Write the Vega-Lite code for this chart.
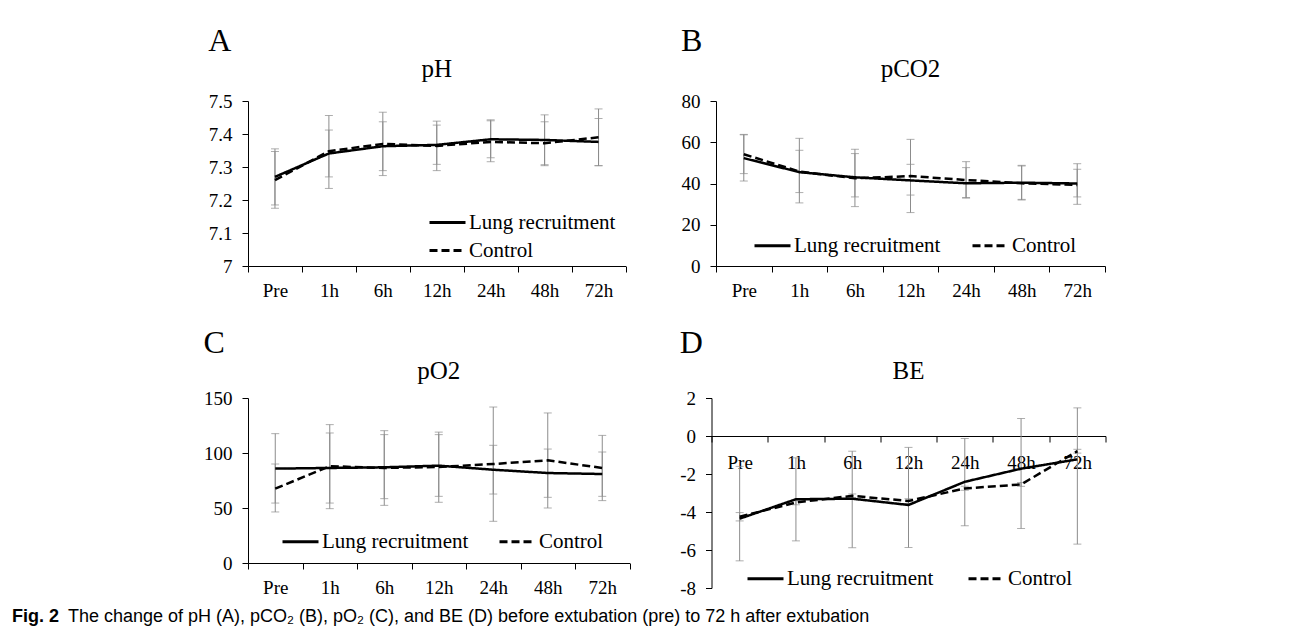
{
  "$schema": "https://vega.github.io/schema/vega-lite/v6.json",
  "padding": {"left": 12, "top": 25, "right": 5, "bottom": 3},
  "background": "white",
  "datasets": {
    "ph": [
      {"time": "Pre", "group": "Lung recruitment", "mean": 7.27, "lo": 7.185, "hi": 7.355},
      {"time": "1h", "group": "Lung recruitment", "mean": 7.341, "lo": 7.27, "hi": 7.412},
      {"time": "6h", "group": "Lung recruitment", "mean": 7.363, "lo": 7.289, "hi": 7.437},
      {"time": "12h", "group": "Lung recruitment", "mean": 7.367, "lo": 7.308, "hi": 7.427},
      {"time": "24h", "group": "Lung recruitment", "mean": 7.384, "lo": 7.328, "hi": 7.443},
      {"time": "48h", "group": "Lung recruitment", "mean": 7.382, "lo": 7.304, "hi": 7.458},
      {"time": "72h", "group": "Lung recruitment", "mean": 7.376, "lo": 7.304, "hi": 7.447},
      {"time": "Pre", "group": "Control", "mean": 7.26, "lo": 7.175, "hi": 7.347},
      {"time": "1h", "group": "Control", "mean": 7.348, "lo": 7.235, "hi": 7.456},
      {"time": "6h", "group": "Control", "mean": 7.37, "lo": 7.274, "hi": 7.466},
      {"time": "12h", "group": "Control", "mean": 7.364, "lo": 7.289, "hi": 7.439},
      {"time": "24h", "group": "Control", "mean": 7.376, "lo": 7.316, "hi": 7.44},
      {"time": "48h", "group": "Control", "mean": 7.372, "lo": 7.307, "hi": 7.437},
      {"time": "72h", "group": "Control", "mean": 7.39, "lo": 7.304, "hi": 7.476}
    ],
    "pco2": [
      {"time": "Pre", "group": "Lung recruitment", "mean": 52.3, "lo": 41.2, "hi": 63.6},
      {"time": "1h", "group": "Lung recruitment", "mean": 45.5, "lo": 35.6, "hi": 56.1},
      {"time": "6h", "group": "Lung recruitment", "mean": 43.0, "lo": 28.8, "hi": 56.6},
      {"time": "12h", "group": "Lung recruitment", "mean": 41.5, "lo": 34.4, "hi": 49.3},
      {"time": "24h", "group": "Lung recruitment", "mean": 40.1, "lo": 32.9, "hi": 47.7},
      {"time": "48h", "group": "Lung recruitment", "mean": 40.4, "lo": 32.3, "hi": 48.5},
      {"time": "72h", "group": "Lung recruitment", "mean": 40.0, "lo": 33.5, "hi": 46.9},
      {"time": "Pre", "group": "Control", "mean": 54.2, "lo": 44.8, "hi": 63.8},
      {"time": "1h", "group": "Control", "mean": 45.8, "lo": 30.6, "hi": 61.9},
      {"time": "6h", "group": "Control", "mean": 42.5, "lo": 33.5, "hi": 54.5},
      {"time": "12h", "group": "Control", "mean": 43.6, "lo": 25.9, "hi": 61.4},
      {"time": "24h", "group": "Control", "mean": 41.7, "lo": 33.2, "hi": 50.6},
      {"time": "48h", "group": "Control", "mean": 40.1, "lo": 32.0, "hi": 48.8},
      {"time": "72h", "group": "Control", "mean": 39.3, "lo": 29.9, "hi": 49.6}
    ],
    "po2": [
      {"time": "Pre", "group": "Lung recruitment", "mean": 85.8, "lo": 54.5, "hi": 117.6},
      {"time": "1h", "group": "Lung recruitment", "mean": 86.4, "lo": 54.5, "hi": 118.2},
      {"time": "6h", "group": "Lung recruitment", "mean": 87.0, "lo": 58.5, "hi": 116.7},
      {"time": "12h", "group": "Lung recruitment", "mean": 88.5, "lo": 60.6, "hi": 116.7},
      {"time": "24h", "group": "Lung recruitment", "mean": 84.8, "lo": 62.7, "hi": 107.0},
      {"time": "48h", "group": "Lung recruitment", "mean": 81.8, "lo": 59.7, "hi": 103.6},
      {"time": "72h", "group": "Lung recruitment", "mean": 80.9, "lo": 60.6, "hi": 100.9},
      {"time": "Pre", "group": "Control", "mean": 67.6, "lo": 46.4, "hi": 90.0},
      {"time": "1h", "group": "Control", "mean": 88.0, "lo": 49.4, "hi": 125.8},
      {"time": "6h", "group": "Control", "mean": 86.4, "lo": 52.4, "hi": 120.3},
      {"time": "12h", "group": "Control", "mean": 87.3, "lo": 55.2, "hi": 119.0},
      {"time": "24h", "group": "Control", "mean": 90.0, "lo": 37.9, "hi": 141.8},
      {"time": "48h", "group": "Control", "mean": 93.3, "lo": 50.0, "hi": 136.4},
      {"time": "72h", "group": "Control", "mean": 86.4, "lo": 56.7, "hi": 116.0}
    ],
    "be": [
      {"time": "Pre", "group": "Lung recruitment", "mean": -4.35, "lo": -6.57, "hi": -1.6},
      {"time": "1h", "group": "Lung recruitment", "mean": -3.33, "lo": -5.52, "hi": -1.15},
      {"time": "6h", "group": "Lung recruitment", "mean": -3.3, "lo": -5.88, "hi": -0.8},
      {"time": "12h", "group": "Lung recruitment", "mean": -3.63, "lo": -5.87, "hi": -0.6},
      {"time": "24h", "group": "Lung recruitment", "mean": -2.41, "lo": -4.73, "hi": -0.13},
      {"time": "48h", "group": "Lung recruitment", "mean": -1.72, "lo": -4.87, "hi": 0.92},
      {"time": "72h", "group": "Lung recruitment", "mean": -1.23, "lo": -5.69, "hi": 1.48},
      {"time": "Pre", "group": "Control", "mean": -4.25, "lo": -4.47, "hi": -4.03},
      {"time": "1h", "group": "Control", "mean": -3.5, "lo": -3.62, "hi": -3.38},
      {"time": "6h", "group": "Control", "mean": -3.15, "lo": -3.25, "hi": -3.05},
      {"time": "12h", "group": "Control", "mean": -3.42, "lo": -3.55, "hi": -3.3},
      {"time": "24h", "group": "Control", "mean": -2.76, "lo": -2.85, "hi": -2.65},
      {"time": "48h", "group": "Control", "mean": -2.55, "lo": -2.65, "hi": -2.45},
      {"time": "72h", "group": "Control", "mean": -0.8, "lo": -0.9, "hi": -0.7}
    ]
  },
  "title": {
    "text": "Fig. 2",
    "orient": "bottom",
    "anchor": "start",
    "frame": "bounds",
    "dx": -56,
    "offset": -18,
    "font": "Liberation Sans",
    "fontSize": 18,
    "fontWeight": "bold",
    "color": "black"
  },
  "vconcat": [
    {
      "title": {
        "text": "The change of pH (A), pCO₂ (B), pO₂ (C), and BE (D) before extubation (pre) to 72 h after extubation",
        "orient": "bottom",
        "anchor": "start",
        "frame": "bounds",
        "dx": -135.5,
        "offset": 10,
        "font": "Liberation Sans",
        "fontSize": 18,
        "fontWeight": "normal",
        "color": "black"
      },
      "columns": 1,
      "align": "none",
      "spacing": 27,
      "resolve": {"scale": {"x": "independent", "y": "independent", "strokeDash": "independent"}, "legend": {"strokeDash": "independent"}},
      "concat": [
        {
          "spacing": 54,
          "resolve": {"scale": {"x": "independent", "y": "independent", "strokeDash": "independent"}, "legend": {"strokeDash": "independent"}},
          "hconcat": [
            {
              "title": {"text": "A", "anchor": "start", "frame": "bounds", "fontSize": 32, "offset": -1},
              "vconcat": [
                {
                  "width": 377.5, "height": 165,
                  "title": {"text": "pH", "fontSize": 25, "anchor": "middle", "offset": 10},
                  "data": {"name": "ph"},
                  "encoding": {"x": {"field": "time", "type": "ordinal", "sort": ["Pre", "1h", "6h", "12h", "24h", "48h", "72h"], "scale": {"paddingInner": 0, "paddingOuter": 0}, "axis": {"title": null}}},
                  "layer": [
                    {"mark": {"type": "rule", "color": "#8c8c8c", "strokeWidth": 1}, "encoding": {"y": {"field": "lo", "type": "quantitative", "scale": {"domain": [7, 7.5], "nice": false, "zero": false}, "axis": {"title": null, "values": [7, 7.1, 7.2, 7.3, 7.4, 7.5], "tickCount": 12, "labelOverlap": false, "labelExpr": "'' + datum.value"}}, "y2": {"field": "hi"}}},
                    {"mark": {"type": "tick", "color": "#8c8c8c", "thickness": 1}, "encoding": {"y": {"field": "lo", "type": "quantitative"}, "size": {"value": 8}}},
                    {"mark": {"type": "tick", "color": "#8c8c8c", "thickness": 1}, "encoding": {"y": {"field": "hi", "type": "quantitative"}, "size": {"value": 8}}},
                    {"mark": {"type": "line", "color": "black", "strokeWidth": 2.5}, "encoding": {"y": {"field": "mean", "type": "quantitative"}, "strokeDash": {"field": "group", "type": "nominal", "scale": {"domain": ["Lung recruitment", "Control"], "range": [[1, 0], [8, 4]]}, "legend": {"orient": "none", "legendX": 188, "legendY": 110, "direction": "vertical", "rowPadding": 6}}}}
                  ]
                }
              ]
            },
            {
              "title": {"text": "B", "anchor": "start", "frame": "bounds", "fontSize": 32, "offset": -1},
              "vconcat": [
                {
                  "width": 389, "height": 165,
                  "title": {"text": "pCO2", "fontSize": 25, "anchor": "middle", "offset": 10},
                  "data": {"name": "pco2"},
                  "encoding": {"x": {"field": "time", "type": "ordinal", "sort": ["Pre", "1h", "6h", "12h", "24h", "48h", "72h"], "scale": {"paddingInner": 0, "paddingOuter": 0}, "axis": {"title": null}}},
                  "layer": [
                    {"mark": {"type": "rule", "color": "#8c8c8c", "strokeWidth": 1}, "encoding": {"y": {"field": "lo", "type": "quantitative", "scale": {"domain": [0, 80], "nice": false}, "axis": {"title": null, "values": [0, 20, 40, 60, 80], "tickCount": 12, "labelOverlap": false, "labelExpr": "'' + datum.value"}}, "y2": {"field": "hi"}}},
                    {"mark": {"type": "tick", "color": "#8c8c8c", "thickness": 1}, "encoding": {"y": {"field": "lo", "type": "quantitative"}, "size": {"value": 8}}},
                    {"mark": {"type": "tick", "color": "#8c8c8c", "thickness": 1}, "encoding": {"y": {"field": "hi", "type": "quantitative"}, "size": {"value": 8}}},
                    {"mark": {"type": "line", "color": "black", "strokeWidth": 2.5}, "encoding": {"y": {"field": "mean", "type": "quantitative"}, "strokeDash": {"field": "group", "type": "nominal", "scale": {"domain": ["Lung recruitment", "Control"], "range": [[1, 0], [8, 4]]}, "legend": {"orient": "none", "legendX": 45, "legendY": 133, "direction": "horizontal", "columnPadding": 25}}}}
                  ]
                }
              ]
            }
          ]
        },
        {
          "spacing": 48.5,
          "resolve": {"scale": {"x": "independent", "y": "independent", "strokeDash": "independent"}, "legend": {"strokeDash": "independent"}},
          "hconcat": [
            {
              "title": {"text": "C", "anchor": "start", "frame": "bounds", "fontSize": 32, "offset": -1},
              "vconcat": [
                {
                  "width": 381.5, "height": 165,
                  "title": {"text": "pO2", "fontSize": 25, "anchor": "middle", "offset": 5},
                  "data": {"name": "po2"},
                  "encoding": {"x": {"field": "time", "type": "ordinal", "sort": ["Pre", "1h", "6h", "12h", "24h", "48h", "72h"], "scale": {"paddingInner": 0, "paddingOuter": 0}, "axis": {"title": null}}},
                  "layer": [
                    {"mark": {"type": "rule", "color": "#8c8c8c", "strokeWidth": 1}, "encoding": {"y": {"field": "lo", "type": "quantitative", "scale": {"domain": [0, 150], "nice": false}, "axis": {"title": null, "values": [0, 50, 100, 150], "tickCount": 12, "labelOverlap": false, "labelExpr": "'' + datum.value"}}, "y2": {"field": "hi"}}},
                    {"mark": {"type": "tick", "color": "#8c8c8c", "thickness": 1}, "encoding": {"y": {"field": "lo", "type": "quantitative"}, "size": {"value": 8}}},
                    {"mark": {"type": "tick", "color": "#8c8c8c", "thickness": 1}, "encoding": {"y": {"field": "hi", "type": "quantitative"}, "size": {"value": 8}}},
                    {"mark": {"type": "line", "color": "black", "strokeWidth": 2.5}, "encoding": {"y": {"field": "mean", "type": "quantitative"}, "strokeDash": {"field": "group", "type": "nominal", "scale": {"domain": ["Lung recruitment", "Control"], "range": [[1, 0], [8, 4]]}, "legend": {"orient": "none", "legendX": 41, "legendY": 132, "direction": "horizontal", "columnPadding": 24}}}}
                  ]
                }
              ]
            },
            {
              "title": {"text": "D", "anchor": "start", "frame": "bounds", "fontSize": 32, "offset": -1},
              "vconcat": [
                {
                  "width": 394, "height": 190,
                  "title": {"text": "BE", "fontSize": 25, "anchor": "middle", "offset": 5},
                  "data": {"name": "be"},
                  "encoding": {"x": {"field": "time", "type": "ordinal", "sort": ["Pre", "1h", "6h", "12h", "24h", "48h", "72h"], "scale": {"paddingInner": 0, "paddingOuter": 0}, "axis": {"title": null, "offset": -152, "labelPadding": 11}}},
                  "layer": [
                    {"mark": {"type": "rule", "color": "#8c8c8c", "strokeWidth": 1}, "encoding": {"y": {"field": "lo", "type": "quantitative", "scale": {"domain": [-8, 2], "nice": false, "zero": false}, "axis": {"title": null, "values": [-8, -6, -4, -2, 0, 2], "tickCount": 12, "labelOverlap": false, "labelExpr": "'' + datum.value"}}, "y2": {"field": "hi"}}},
                    {"mark": {"type": "tick", "color": "#8c8c8c", "thickness": 1}, "encoding": {"y": {"field": "lo", "type": "quantitative"}, "size": {"value": 8}}},
                    {"mark": {"type": "tick", "color": "#8c8c8c", "thickness": 1}, "encoding": {"y": {"field": "hi", "type": "quantitative"}, "size": {"value": 8}}},
                    {"mark": {"type": "line", "color": "black", "strokeWidth": 2.5}, "encoding": {"y": {"field": "mean", "type": "quantitative"}, "strokeDash": {"field": "group", "type": "nominal", "scale": {"domain": ["Lung recruitment", "Control"], "range": [[1, 0], [8, 4]]}, "legend": {"orient": "none", "legendX": 42.5, "legendY": 169, "direction": "horizontal", "columnPadding": 28}}}}
                  ]
                }
              ]
            }
          ]
        }
      ]
    }
  ],
  "config": {
    "font": "Liberation Serif",
    "view": {"stroke": null},
    "title": {"font": "Liberation Serif", "fontWeight": "normal", "color": "black"},
    "axis": {
      "labelFont": "Liberation Serif",
      "labelFontSize": 19,
      "labelColor": "black",
      "labelOverlap": false,
      "domainColor": "black",
      "domainWidth": 1,
      "tickColor": "black",
      "tickWidth": 1,
      "tickSize": 6,
      "grid": false
    },
    "axisX": {"tickBand": "extent", "labelAngle": 0, "labelPadding": 9},
    "axisY": {"labelPadding": 10},
    "legend": {
      "title": null,
      "padding": 0,
      "symbolType": "M-1.8,0H1.8",
      "symbolSize": 400,
      "symbolStrokeWidth": 3,
      "symbolStrokeColor": "black",
      "labelFont": "Liberation Serif",
      "labelFontSize": 21,
      "labelColor": "black",
      "labelOffset": 10
    }
  }
}
